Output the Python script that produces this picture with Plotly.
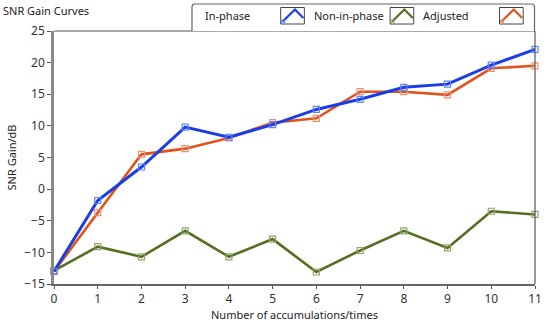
import plotly.graph_objects as go

accumulations = list(range(12))
in_phase = [-13.0, -1.8, 3.5, 9.8, 8.2, 10.2, 12.6, 14.2, 16.1, 16.6, 19.6, 22.1]
non_in_phase = [-12.9, -9.1, -10.7, -6.6, -10.7, -7.9, -13.1, -9.7, -6.6, -9.3, -3.5, -4.0]
adjusted = [-13.0, -3.7, 5.5, 6.4, 8.1, 10.5, 11.2, 15.4, 15.4, 14.9, 19.1, 19.5]
series_names = ["In-phase", "Non-in-phase", "Adjusted"]
x_ticks = list(range(12))
y_ticks = [-15, -10, -5, 0, 5, 10, 15, 20, 25]

W, H = 550, 323
ML, MR, MT, MB = 54, 8, 31, 39
PW, PH = W - ML - MR, H - MT - MB


def px(x):
    return (x - ML) / PW


def py(y):
    return (H - MB - y) / PH


line_colors = ["#1a3ee6", "#556e22", "#e0531c"]
marker_colors = ["#5a86ff", "#8ea66a", "#f09070"]
widths = [3, 2.6, 2.6]
data = [in_phase, non_in_phase, adjusted]

fig = go.Figure()
# draw order: green, orange, blue on top
for idx in [1, 2, 0]:
    fig.add_trace(go.Scatter(
        x=accumulations, y=data[idx], mode="lines+markers", name=series_names[idx],
        line=dict(color=line_colors[idx], width=widths[idx]),
        marker=dict(symbol="square-open", size=6, color=marker_colors[idx],
                    line=dict(width=1.2, color=marker_colors[idx])),
        cliponaxis=False, showlegend=False, hoverinfo="skip",
    ))

font = "Noto Sans, DejaVu Sans, sans-serif"

shapes = []
annotations = []
# plot frame top and right
shapes.append(dict(type="line", xref="paper", yref="paper", x0=0, x1=1, y0=1, y1=1,
                   line=dict(color="#555555", width=1.2)))
shapes.append(dict(type="line", xref="paper", yref="paper", x0=1, x1=1, y0=0, y1=1,
                   line=dict(color="#555555", width=1.2)))

# legend box (rounded top corners)
lx0, lx1, ly0, ly1, r = 194, 541.5, 4, 31, 3
path = (f"M {px(lx0)},{py(ly1)} L {px(lx0)},{py(ly0 + r)} Q {px(lx0)},{py(ly0)} {px(lx0 + r)},{py(ly0)} "
        f"L {px(lx1 - r)},{py(ly0)} Q {px(lx1)},{py(ly0)} {px(lx1)},{py(ly0 + r)} L {px(lx1)},{py(ly1)}")
shapes.append(dict(type="path", xref="paper", yref="paper", path=path,
                   line=dict(color="#666666", width=1.2), fillcolor="white"))

text_x = [205, 316, 426]
icon_x = [284, 395, 506]
for i, name in enumerate(series_names):
    annotations.append(dict(xref="paper", yref="paper", x=px(text_x[i]), y=py(15.5),
                            xanchor="left", yanchor="middle", text=name, showarrow=False,
                            font=dict(family=font, size=11, color="#222222")))
    bx = icon_x[i]
    shapes.append(dict(type="rect", xref="paper", yref="paper",
                       x0=px(bx), x1=px(bx + 24), y0=py(24), y1=py(7.5),
                       line=dict(color="#444444", width=1), fillcolor="white"))
    chev = (f"M {px(bx + 2)},{py(21.5)} L {px(bx + 14.5)},{py(9.5)} L {px(bx + 23)},{py(18)}")
    shapes.append(dict(type="path", xref="paper", yref="paper", path=chev,
                       line=dict(color=line_colors[i], width=2.2)))
    shapes.append(dict(type="rect", xref="paper", yref="paper",
                       x0=px(bx + 1), x1=px(bx + 4), y0=py(23), y1=py(20),
                       line=dict(color=marker_colors[i], width=1), fillcolor="rgba(0,0,0,0)"))

# x-axis title
annotations.append(dict(xref="paper", yref="paper", x=0.5, y=py(314),
                        xanchor="center", yanchor="middle", showarrow=False,
                        text="Number of accumulations/times",
                        font=dict(family=font, size=11, color="#222222")))

fig.update_layout(
    width=W, height=H,
    margin=dict(l=ML, r=MR, t=MT, b=MB),
    paper_bgcolor="white", plot_bgcolor="white",
    font=dict(family=font, size=11, color="#333333"),
    hovermode=False,
    title=dict(text="SNR Gain Curves", xref="container", yref="container",
               x=3 / W, xanchor="left", y=1 - 11.5 / H, yanchor="middle",
               font=dict(family=font, size=11, color="#222222")),
    xaxis=dict(range=[0, 11], tickmode="array", tickvals=x_ticks,
               showgrid=False, zeroline=False, showline=True, linecolor="#666666", linewidth=2,
               ticks="outside", ticklen=3, tickcolor="#555555", tickwidth=1,
               ticklabeloverflow="allow",
               tickfont=dict(size=12, color="#333333")),
    yaxis=dict(range=[-15, 25], tickmode="array", tickvals=y_ticks,
               showgrid=False, zeroline=False, showline=True, linecolor="#888888", linewidth=2.5,
               ticks="outside", ticklen=4, tickcolor="#555555", tickwidth=1,
               tickfont=dict(size=12, color="#333333"),
               title=dict(text="SNR Gain/dB", standoff=6,
                          font=dict(size=11, color="#222222"))),
    shapes=shapes, annotations=annotations,
)

fig.write_html("out.html", config={"displayModeBar": False},
               post_script="document.body.style.margin='0';document.body.style.padding='0';")
